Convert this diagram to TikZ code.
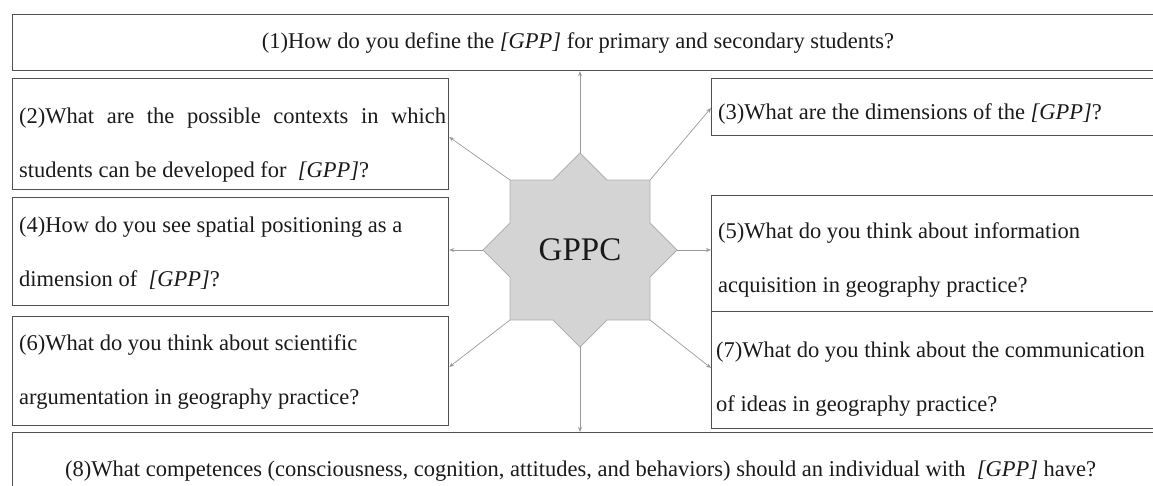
\documentclass[tikz,border=0pt]{standalone}
\usepackage{fontspec}
\setmainfont{Liberation Serif}
\usetikzlibrary{arrows.meta,calc}
\definecolor{boxc}{HTML}{505050}
\definecolor{txtc}{HTML}{1A1A1A}
\definecolor{arrc}{HTML}{9A9A9A}
\definecolor{starfill}{HTML}{D4D4D4}
\definecolor{stardraw}{HTML}{B0B0B0}
\begin{document}
\begin{tikzpicture}[x=1pt,y=-1pt,
  box/.style={draw=boxc, line width=1.2pt, inner sep=0pt, anchor=north west},
  txt/.style={font=\fontsize{22.5}{54}\selectfont, text=txtc, inner sep=0pt, anchor=west, align=left},
  arr/.style={draw=arrc, line width=0.7pt, -{Stealth[length=5pt,width=4pt]}}]
\useasboundingbox (0,0) rectangle (1153,485);
% boxes
\node[box, minimum width=1150pt, minimum height=56pt] (b1) at (12,14) {};
\node[box, minimum width=436pt, minimum height=111pt] (b2) at (12,78) {};
\node[box, minimum width=450pt, minimum height=57pt] (b3) at (711,78) {};
\node[box, minimum width=436pt, minimum height=108pt] (b4) at (12,197) {};
\node[box, minimum width=450pt, minimum height=116pt] (b5) at (711,195) {};
\node[box, minimum width=436pt, minimum height=109pt] (b6) at (12,316) {};
\node[box, minimum width=450pt, minimum height=117pt] (b7) at (711,311) {};
\node[box, minimum width=1150pt, minimum height=70pt] (b8) at (12,432) {};
% texts
\node[txt, anchor=center] (t1) at (578,43) {(1)How do you define the \textit{[GPP]} for primary and secondary students?};
\node[txt] (t2) at (19,145) {\makebox[427pt][s]{(2)What are the possible contexts in which}\\students can be developed for \ \textit{[GPP]}?};
\node[txt] (t3) at (718,114) {(3)What are the dimensions of the \textit{[GPP]}?};
\node[txt] (t4) at (19,253) {(4)How do you see spatial positioning as a\\dimension of \ \textit{[GPP]}?};
\node[txt] (t5) at (718,260) {(5)What do you think about information\\acquisition in geography practice?};
\node[txt] (t6) at (19,372) {(6)What do you think about scientific\\argumentation in geography practice?};
\node[txt] (t7) at (716,379) {(7)What do you think about the communication\\of ideas in geography practice?};
\node[txt] (t8) at (65,471) {(8)What competences (consciousness, cognition, attitudes, and behaviors) should an individual with \ \textit{[GPP]} have?};
% star
\coordinate (c) at (580,250);
\coordinate (sN) at ($(c)+(0,-97)$);
\coordinate (sS) at ($(c)+(0,97)$);
\coordinate (sW) at ($(c)+(-97,0)$);
\coordinate (sE) at ($(c)+(97,0)$);
\coordinate (sNE) at ($(c)+(70,-70)$);
\coordinate (sNW) at ($(c)+(-70,-70)$);
\coordinate (sSE) at ($(c)+(70,70)$);
\coordinate (sSW) at ($(c)+(-70,70)$);
\draw[fill=starfill, draw=stardraw, line width=0.8pt]
  (sN) -- ++(27,27) -- (sNE) -- ++(0,43) -- (sE) -- ++(-27,27) -- (sSE) -- ++(-43,0)
  -- (sS) -- ++(-27,-27) -- (sSW) -- ++(0,-43) -- (sW) -- ++(27,-27) -- (sNW) -- ++(43,0) -- cycle;
\node[font=\fontsize{33}{36}\selectfont, text=txtc, inner sep=0pt] (g) at (c) {GPPC};
% arrows
\coordinate (e2) at (b2.east |- 0,137);
\coordinate (e3) at (b3.west |- 0,108);
\coordinate (e6) at (b6.east |- 0,367);
\coordinate (e7) at (b7.west |- 0,368);
\draw[arr] (sN) -- (sN |- b1.south);
\draw[arr] (sS) -- (sS |- b8.north);
\draw[arr] (sW) -- (sW -| b4.east);
\draw[arr] (sE) -- (sE -| b5.west);
\draw[arr] (sNW) -- (e2);
\draw[arr] (sNE) -- (e3);
\draw[arr] (sSW) -- (e6);
\draw[arr] (sSE) -- (e7);
\end{tikzpicture}
\end{document}
